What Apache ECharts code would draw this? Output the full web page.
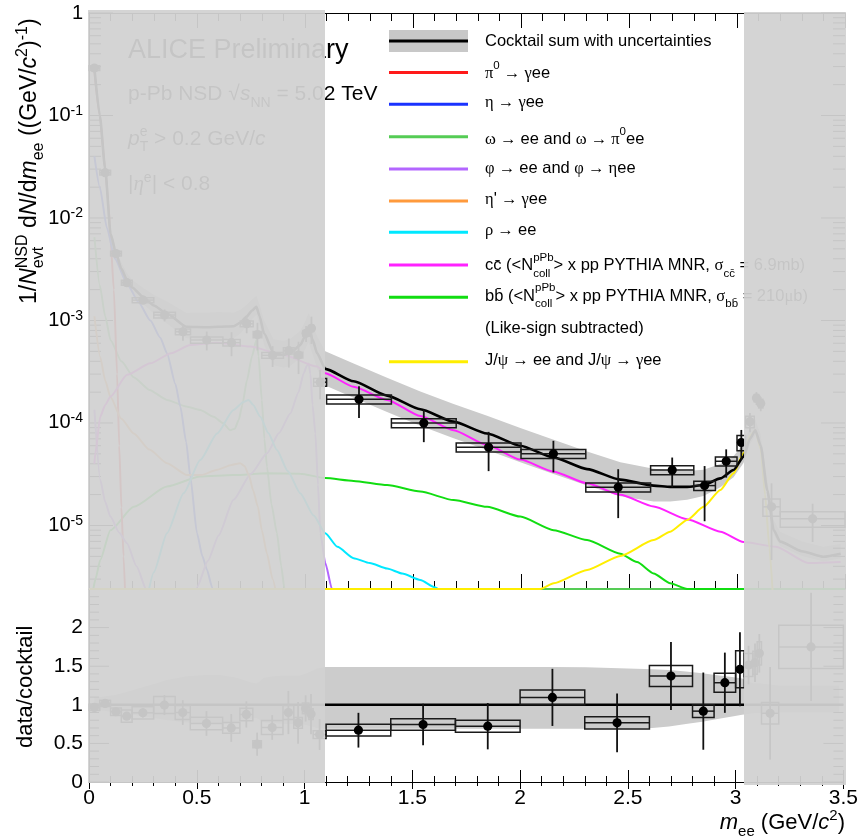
<!DOCTYPE html>
<html><head><meta charset="utf-8">
<script src="https://cdn.jsdelivr.net/npm/echarts@6/dist/echarts.min.js"></script>
<style>html,body{margin:0;padding:0;background:#fff}#c{width:861px;height:839px}</style>
</head><body><div id="c"></div><script>
const SANS = '"Liberation Sans", Arial, Helvetica, sans-serif';
const SERIF = '"Liberation Serif", "DejaVu Serif", serif';
const YMIN = 2.4e-6, YMAX = 1;

// ---------------- cocktail sum ----------------
const cocktailX = [0.025,0.05,0.075,0.1,0.125,0.15,0.176,0.2,0.25,0.3,0.36,0.45,0.55,0.6,0.67,0.7,0.73,0.755,0.775,0.79,0.81,0.855,0.9,0.932,0.978,1.0,1.017,1.035,1.056,1.094,1.225,1.38,1.534,1.688,1.843,1.997,2.151,2.306,2.46,2.614,2.691,2.769,2.845,2.923,2.984,3.03,3.06,3.085,3.11,3.14,3.17,3.2,3.3,3.4,3.48];
const cocktailY = [0.29,0.1,0.03,7e-3,4.5e-3,3.2e-3,2.48e-3,2.1e-3,1.7e-3,1.4e-3,1.17e-3,8.7e-4,8.6e-4,8.7e-4,8.8e-4,9.5e-4,1.09e-3,1.25e-3,1.36e-3,1.1e-3,7.5e-4,4.8e-4,4.6e-4,4.8e-4,5.75e-4,7e-4,8.4e-4,6.5e-4,4.8e-4,3.37e-4,2.55e-4,1.85e-4,1.36e-4,1.03e-4,7.9e-5,6.0e-5,4.6e-5,3.55e-5,2.8e-5,2.45e-5,2.38e-5,2.38e-5,2.48e-5,2.88e-5,3.48e-5,4.69e-5,7e-5,8.5e-5,6e-5,2.2e-5,9e-6,6.95e-6,5.6e-6,4.95e-6,5.3e-6];
// relative cocktail uncertainty (upper / lower edge of data/cocktail band)
const bandHi = [1.10,1.10,1.11,1.12,1.13,1.15,1.17,1.19,1.23,1.27,1.32,1.37,1.39,1.39,1.36,1.34,1.31,1.29,1.28,1.30,1.35,1.37,1.38,1.38,1.38,1.40,1.42,1.44,1.47,1.49,1.49,1.49,1.49,1.49,1.49,1.49,1.49,1.485,1.475,1.46,1.45,1.43,1.41,1.38,1.36,1.34,1.30,1.28,1.28,1.27,1.26,1.25,1.25,1.25,1.25];
const bandLo = [0.93,0.93,0.92,0.91,0.90,0.89,0.88,0.87,0.85,0.83,0.80,0.77,0.75,0.75,0.76,0.78,0.80,0.82,0.83,0.81,0.77,0.76,0.75,0.75,0.75,0.74,0.73,0.72,0.70,0.69,0.69,0.69,0.69,0.69,0.69,0.69,0.69,0.69,0.69,0.70,0.72,0.75,0.78,0.82,0.85,0.87,0.88,0.89,0.89,0.89,0.90,0.90,0.90,0.90,0.90];

// ---------------- cocktail components ----------------
const pi0 = [[0.025,0.27],[0.05,0.1],[0.075,0.03],[0.09,0.014],[0.1,6e-3],[0.115,2e-3],[0.13,3e-4],[0.14,6e-5],[0.15,1.5e-5],[0.16,5e-6],[0.17,1.5e-6]];
const eta = [[0.025,0.04],[0.05,0.02],[0.083,8e-3],[0.12,4e-3],[0.176,2.3e-3],[0.23,1.5e-3],[0.284,1.0e-3],[0.33,6.8e-4],[0.361,4.8e-4],[0.4,2.4e-4],[0.423,1.44e-4],[0.45,6.5e-5],[0.469,3e-5],[0.5,8.4e-6],[0.525,5e-6],[0.546,3.7e-6],[0.57,2.5e-6],[0.585,1.8e-6]];
const omega = [[0.025,6.5e-3],[0.05,2.2e-3],[0.075,1.1e-3],[0.1,6.4e-4],[0.15,4e-4],[0.207,2.8e-4],[0.28,2.1e-4],[0.361,1.68e-4],[0.45,1.45e-4],[0.515,1.34e-4],[0.577,1.15e-4],[0.62,1e-4],[0.654,8.5e-5],[0.675,8.8e-5],[0.693,1.07e-4],[0.71,1.5e-4],[0.731,2.6e-4],[0.755,4.5e-4],[0.775,6.45e-4],[0.785,4.5e-4],[0.8,1.68e-4],[0.812,7e-5],[0.824,3.75e-5],[0.845,1.6e-5],[0.87,8.4e-6],[0.89,4e-6],[0.905,2.4e-6],[3.5,2.4e-6]];
const phiLow = [[0.025,1.35e-4],[0.052,2.8e-5],[0.075,1.7e-5],[0.099,1.22e-5],[0.14,8.5e-6],[0.176,6.7e-6],[0.22,4e-6],[0.268,2.3e-6],[0.28,1.8e-6]];
const phiHigh = [[0.49,1.8e-6],[0.5,2.5e-6],[0.55,4.5e-6],[0.6,8e-6],[0.669,1.78e-5],[0.75,3.2e-5],[0.824,5.06e-5],[0.88,8e-5],[0.932,1.24e-4],[0.97,2e-4],[0.994,3.05e-4],[1.008,3.6e-4],[1.017,3.8e-4],[1.025,3e-4],[1.035,1.5e-4],[1.048,7.9e-5],[1.06,2.5e-5],[1.071,8.4e-6],[1.094,4.3e-6],[1.125,2.4e-6],[1.13,2e-6]];
const etaPrime = [[0.025,1.1e-3],[0.052,4.4e-4],[0.075,2.6e-4],[0.099,1.8e-4],[0.15,1.1e-4],[0.207,7.9e-5],[0.28,5.5e-5],[0.361,4.05e-5],[0.454,3.1e-5],[0.52,3.1e-5],[0.593,3.5e-5],[0.66,3.9e-5],[0.7,4.05e-5],[0.72,3.8e-5],[0.74,3.1e-5],[0.76,2.2e-5],[0.782,1.52e-5],[0.8,9e-6],[0.824,5.3e-6],[0.85,3e-6],[0.87,2e-6]];
const rho = [[0.27,2e-6],[0.3,3.5e-6],[0.361,8.4e-6],[0.438,2.06e-5],[0.515,4.35e-5],[0.593,7.9e-5],[0.669,1.34e-4],[0.715,1.6e-4],[0.739,1.68e-4],[0.76,1.5e-4],[0.793,1.15e-4],[0.83,8e-5],[0.87,5.45e-5],[0.92,3.4e-5],[0.978,2.06e-5],[1.04,1.25e-5],[1.094,8.4e-6],[1.15,6.2e-6],[1.225,4.8e-6],[1.3,4.3e-6],[1.38,3.8e-6],[1.45,3.4e-6],[1.534,2.94e-6],[1.6,2.5e-6],[1.64,2.2e-6]];
const ccbar = [[0.025,4e-5],[0.029,5.06e-5],[0.052,1.15e-4],[0.075,1.5e-4],[0.099,1.8e-4],[0.176,2.95e-4],[0.284,3.82e-4],[0.38,4.8e-4],[0.469,5.77e-4],[0.593,6.08e-4],[0.747,5.56e-4],[0.901,4.6e-4],[1.056,3.55e-4],[1.094,3.05e-4],[1.225,2.26e-4],[1.38,1.68e-4],[1.534,1.17e-4],[1.688,8.5e-5],[1.843,6.1e-5],[1.997,4.4e-5],[2.151,3.35e-5],[2.306,2.58e-5],[2.46,1.99e-5],[2.614,1.53e-5],[2.769,1.15e-5],[2.923,8.7e-6],[3.03,6.9e-6],[3.18,6.2e-6],[3.33,4.3e-6],[3.48,4.4e-6]];
const bbbar = [[0.02,2.4e-6],[0.03,3e-6],[0.052,4.6e-6],[0.099,9e-6],[0.207,1.52e-5],[0.361,2.4e-5],[0.515,3e-5],[0.669,3.1e-5],[0.824,3.23e-5],[0.978,3.2e-5],[1.094,2.9e-5],[1.225,2.72e-5],[1.38,2.48e-5],[1.534,2.14e-5],[1.688,1.77e-5],[1.843,1.52e-5],[1.997,1.22e-5],[2.151,9e-6],[2.306,7.2e-6],[2.46,5.3e-6],[2.537,4.4e-6],[2.614,3.4e-6],[2.691,2.73e-6],[2.769,2.4e-6],[3.5,2.4e-6]];
const jpsi = [[0,2.4e-6],[2.09,2.4e-6],[2.151,2.73e-6],[2.306,3.68e-6],[2.46,5.04e-6],[2.614,7.2e-6],[2.691,8.7e-6],[2.769,1.13e-5],[2.845,1.52e-5],[2.923,2.22e-5],[2.984,3.23e-5],[3.03,5.06e-5],[3.06,7.5e-5],[3.085,8.5e-5],[3.11,5.5e-5],[3.13,2e-5],[3.15,6e-6],[3.17,1.5e-6]];
const unityLine = [[0,1],[3.5,1]];

// ---------------- data points ----------------
const xPts   = [0.025,0.075,0.125,0.175,0.25,0.35,0.435,0.545,0.66,0.73,0.78,0.85,0.925,0.97,1.005,1.03,1.07,1.25,1.55,1.85,2.15,2.45,2.70,2.85,2.95,3.02,3.06,3.09,3.11,3.16,3.35];
const binLo  = [0.0,0.05,0.1,0.15,0.2,0.3,0.4,0.47,0.62,0.7,0.76,0.8,0.9,0.95,0.99,1.02,1.04,1.1,1.4,1.7,2.0,2.3,2.6,2.8,2.9,3.0,3.04,3.08,3.1,3.12,3.2];
const binHi  = [0.05,0.1,0.15,0.2,0.3,0.4,0.47,0.62,0.7,0.76,0.8,0.9,0.95,0.99,1.02,1.04,1.1,1.4,1.7,2.0,2.3,2.6,2.8,2.9,3.0,3.04,3.08,3.1,3.12,3.2,3.5];
const yieldY = [0.29,0.0277,4.5e-3,2.34e-3,1.58e-3,1.13e-3,7.76e-4,6.45e-4,6.08e-4,9.3e-4,7.3e-4,4.57e-4,5.07e-4,4.6e-4,7.5e-4,8.4e-4,2.5e-4,1.70e-4,1.0e-4,5.79e-5,5.0e-5,2.36e-5,3.48e-5,2.45e-5,4.23e-5,6.45e-5,1.03e-4,1.75e-4,1.55e-4,1.52e-5,1.16e-5];
const yieldStat = [0.009,8e-4,2e-4,1.4e-4,1.1e-4,1.5e-4,1.4e-4,1.35e-4,1.6e-4,1.8e-4,2.2e-4,1.05e-4,1.6e-4,1.6e-4,1.35e-4,2.5e-4,8e-5,5.8e-5,3.5e-5,2.4e-5,1.7e-5,1.18e-5,1.12e-5,1.35e-5,1.3e-5,2.1e-5,2.2e-5,2.5e-5,2.5e-5,1.06e-5,4.7e-6];
const yieldSys = [0.015,1.5e-3,2.5e-4,1.3e-4,9e-5,7e-5,5e-5,4.5e-5,4.5e-5,6e-5,5e-5,3e-5,3.5e-5,3e-5,5e-5,6e-5,2.2e-5,1.7e-5,1.0e-5,5.8e-6,5e-6,2.4e-6,3.5e-6,2.5e-6,4.2e-6,1.1e-5,1.3e-5,1.5e-5,1.5e-5,2.9e-6,2e-6];
const ratioY = [0.966,1.018,0.91,0.853,0.896,0.996,0.90,0.758,0.70,0.875,0.49,0.706,0.90,0.766,0.953,0.88,0.615,0.671,0.745,0.723,1.096,0.766,1.373,0.918,1.286,1.46,1.515,1.545,1.667,0.89,1.75];
const ratioStat = [0.03,0.03,0.04,0.05,0.06,0.13,0.16,0.16,0.18,0.17,0.15,0.16,0.28,0.27,0.17,0.26,0.2,0.225,0.27,0.3,0.37,0.38,0.44,0.5,0.39,0.48,0.25,0.25,0.25,0.6,0.7];
const ratioSys = [0.04,0.04,0.05,0.08,0.08,0.11,0.09,0.08,0.07,0.08,0.045,0.09,0.09,0.07,0.07,0.07,0.05,0.076,0.075,0.078,0.096,0.078,0.136,0.082,0.124,0.24,0.15,0.15,0.15,0.14,0.28];

// ---------------- axis ticks / labels ----------------
const xTickLabels = ['0','0.5','1','1.5','2','2.5','3','3.5'];
const ratioTickLabels = ['0','0.5','1','1.5','2'];
const logMajorTicks = [1e-5,1e-4,1e-3,1e-2,0.1,1];
const logMinorTicks = [3e-6,4e-6,5e-6,6e-6,7e-6,8e-6,9e-6,2e-5,3e-5,4e-5,5e-5,6e-5,7e-5,8e-5,9e-5,2e-4,3e-4,4e-4,5e-4,6e-4,7e-4,8e-4,9e-4,2e-3,3e-3,4e-3,5e-3,6e-3,7e-3,8e-3,9e-3,0.02,0.03,0.04,0.05,0.06,0.07,0.08,0.09,0.2,0.3,0.4,0.5,0.6,0.7,0.8,0.9];
const ratioMajorTicks = [0,0.5,1,1.5,2,2.5];
const ratioMinorTicks = [0.1,0.2,0.3,0.4,0.6,0.7,0.8,0.9,1.1,1.2,1.3,1.4,1.6,1.7,1.8,1.9,2.1,2.2,2.3,2.4];

// ---------------- colours ----------------
const C = {pi0:'#ff1a1a', eta:'#1a33ff', omega:'#55cc55', phi:'#b366ff', etap:'#ff9a3c', rho:'#00e8ff', cc:'#ff22ff', bb:'#11dd11', jpsi:'#ffee00'};

// ---------------- text layout helper ----------------
const mctx = document.createElement('canvas').getContext('2d');
function tw(t, font){ mctx.font = font; return mctx.measureText(t).width; }
function S(t, o){ return Object.assign({t:t}, o || {}); }
function layoutText(segs, x0, base, defSize, opt){
  opt = opt || {};
  let x = x0, stackX = 0, stackW = 0; const els = [];
  segs.forEach(s => {
    const size = s.size || defSize, fam = s.fam || SANS;
    const font = (s.it ? 'italic ' : '') + size + 'px ' + fam;
    const w = tw(s.t, font);
    let px;
    if (s.stack === 1){ stackX = x; stackW = w; px = x; }
    else if (s.stack === 2){ px = stackX; stackW = Math.max(stackW, w); x = stackX + stackW; }
    else { px = x; x += w; }
    els.push({type:'text', x: px, y: base + (s.dy || 0) - 0.35 * size, z: opt.z || 10, silent: true,
      style:{text: s.t, fontSize: size, fontFamily: fam, fontStyle: s.it ? 'italic' : 'normal', fill: opt.fill || '#000', verticalAlign: 'middle', align: 'left'}});
  });
  return {els: els, width: x - x0};
}
const SUP = (t, sz, dy) => S(t, {size: sz, dy: -(dy || 8)});
const SUB = (t, sz, dy) => S(t, {size: sz, dy: (dy || 5)});
const G = (t) => S(t, {fam: SERIF});

// ---------------- graphic elements ----------------
const graphics = [];
// legend
const LX0 = 389, LX1 = 468, LTX = 485, LFS = 16.5, LSS = 11.5;
graphics.push({type:'rect', z: 10, silent:true, shape:{x:LX0, y:30, width:LX1-LX0, height:22}, style:{fill:'#c8c8c8'}});
graphics.push({type:'line', z: 11, silent:true, shape:{x1:LX0, y1:41, x2:LX1, y2:41}, style:{stroke:'#000', lineWidth:3}});
const legendRows = [
  {y:null, base:47.5, c:null, segs:[S('Cocktail sum with uncertainties')]},
  {y:72.5, base:79.3, c:C.pi0, segs:[G('π'), SUP('0',LSS,9), G(' → '), G('γ'), S('ee')]},
  {y:104.3, base:108.5, c:C.eta, segs:[G('η'), G(' → '), G('γ'), S('ee')]},
  {y:136.7, base:145, c:C.omega, segs:[G('ω'), G(' → '), S('ee and '), G('ω'), G(' → '), G('π'), SUP('0',LSS,9), S('ee')]},
  {y:169, base:174, c:C.phi, segs:[G('φ'), G(' → '), S('ee and '), G('φ'), G(' → '), G('η'), S('ee')]},
  {y:201, base:205.5, c:C.etap, segs:[G('η'), S("'"), G(' → '), G('γ'), S('ee')]},
  {y:232.3, base:236.7, c:C.rho, segs:[G('ρ'), G(' → '), S('ee')]},
  {y:265, base:271.7, c:C.cc, segs:[S('cc\u0304 (<N'), S('pPb',{size:LSS,dy:-10,stack:1}), S('coll',{size:LSS,dy:6,stack:2}), S('> x pp PYTHIA MNR, '), G('σ'), SUB('cc\u0304',LSS,6), S(' = 6.9mb)')]},
  {y:297.3, base:302.3, c:C.bb, segs:[S('bb\u0304 (<N'), S('pPb',{size:LSS,dy:-10,stack:1}), S('coll',{size:LSS,dy:6,stack:2}), S('> x pp PYTHIA MNR, '), G('σ'), SUB('bb\u0304',LSS,6), S(' = 210'), G('μ'), S('b)')]},
  {y:null, base:334, c:null, segs:[S('(Like-sign subtracted)')]},
  {y:361.7, base:366, c:C.jpsi, segs:[S('J/'), G('ψ'), G(' → '), S('ee and J/'), G('ψ'), G(' → '), G('γ'), S('ee')]}
];
legendRows.forEach(r => {
  if (r.c) graphics.push({type:'line', z: 10, silent:true, shape:{x1:LX0, y1:r.y, x2:LX1, y2:r.y}, style:{stroke:r.c, lineWidth:3}});
  layoutText(r.segs, LTX, r.base, LFS).els.forEach(e => graphics.push(e));
});
// top-left text block
layoutText([S('ALICE Preliminary')], 128, 59.5, 27).els.forEach(e => graphics.push(e));
layoutText([S('p-Pb NSD '), S('√'), S('s',{it:true}), SUB('NN',14,6), S(' = 5.02 TeV')], 128, 101.7, 21).els.forEach(e => graphics.push(e));
layoutText([S('p',{it:true}), S('e',{size:14,dy:-9,stack:1}), S('T',{size:14,dy:6,stack:2}), S(' > 0.2 GeV/'), S('c',{it:true})], 128, 146.5, 21).els.forEach(e => graphics.push(e));
layoutText([S('|'), S('η',{it:true,fam:SERIF}), SUP('e',14,9), S('| < 0.8')], 128, 191.7, 21).els.forEach(e => graphics.push(e));
// y title (top panel), rotated
const yTitle = layoutText([S('1/'), S('N',{it:true}), S('NSD',{size:16,dy:-10,stack:1}), S('evt',{size:16,dy:6,stack:2}), S(' d'), S('N',{it:true}), S('/d'), S('m',{it:true}), SUB('ee',16,6), S(' ((GeV/'), S('c',{it:true}), SUP('2',16,10), S(')'), SUP('-1',16,10), S(')')], 0, 0, 23);
graphics.push({type:'group', x:38, y:304, rotation: Math.PI/2, children: yTitle.els});
// y title (ratio panel)
const rTitle = layoutText([S('data/cocktail')], 0, 0, 22);
graphics.push({type:'group', x:34, y:748, rotation: Math.PI/2, children: rTitle.els});
// x title
const xtSegs = [S('m',{it:true}), SUB('ee',15,6), S(' (GeV/'), S('c',{it:true}), SUP('2',15,10), S(')')];
const xtW = layoutText(xtSegs, 0, 0, 22).width;
layoutText(xtSegs, 845 - xtW, 831, 22).els.forEach(e => graphics.push(e));
// translucent masks over excluded regions
graphics.push({type:'rect', z: 100, silent:true, shape:{x:88, y:10, width:237, height:773}, style:{fill:'rgba(209,209,209,0.94)'}});
graphics.push({type:'rect', z: 100, silent:true, shape:{x:744, y:12, width:102, height:773}, style:{fill:'rgba(209,209,209,0.94)'}});

// ---------------- series helpers ----------------
function lineS(data, color, width, z){
  return {type:'line', xAxisIndex:0, yAxisIndex:0, data:data, showSymbol:false, symbol:'none', smooth:0.2, smoothMonotone:'x', silent:true, z: z || 3, lineStyle:{color:color, width: width || 2}};
}
function bandS(xi, yi, hiFn, loFn, color){
  return {type:'custom', xAxisIndex:xi, yAxisIndex:yi, z:1, silent:true, data:[[1, 1e-3]],
    renderItem:(p, api) => {
      if (p.dataIndex !== 0) return;
      const pts = [];
      for (let i = 0; i < cocktailX.length; i++) pts.push(api.coord([cocktailX[i], hiFn(i)]));
      for (let i = cocktailX.length - 1; i >= 0; i--) pts.push(api.coord([cocktailX[i], loFn(i)]));
      return {type:'polygon', shape:{points:pts}, style:{fill:color}};
    }};
}
function dataS(xi, yi, yArr, statArr, sysArr){
  return {type:'custom', xAxisIndex:xi, yAxisIndex:yi, z:6, silent:true,
    data: xPts.map((x, i) => [x, yArr[i], binLo[i], binHi[i], statArr[i], sysArr[i]]),
    encode:{x:0, y:1},
    renderItem:(p, api) => {
      const x = api.value(0), y = api.value(1), lo = api.value(2), hi = api.value(3), st = api.value(4), sy = api.value(5);
      const c = api.coord([x, y]), a = api.coord([lo, y + sy]), b = api.coord([hi, y - sy]);
      const l = api.coord([lo, y]), r = api.coord([hi, y]), t = api.coord([x, y + st]), bt = api.coord([x, y - st]);
      return {type:'group', children:[
        {type:'rect', shape:{x:a[0], y:a[1], width:b[0]-a[0], height:b[1]-a[1]}, style:{fill:'none', stroke:'#1a1a1a', lineWidth:1.5}},
        {type:'line', shape:{x1:l[0], y1:l[1], x2:r[0], y2:r[1]}, style:{stroke:'#1a1a1a', lineWidth:1.5}},
        {type:'line', shape:{x1:t[0], y1:t[1], x2:bt[0], y2:bt[1]}, style:{stroke:'#111', lineWidth:1.8}},
        {type:'circle', shape:{cx:c[0], cy:c[1], r:4.6}, style:{fill:'#000'}}
      ]};
    }};
}
// inward tick marks on both vertical frame edges of a panel
function yTickS(xi, yi, majors, minors, majLen, minLen){
  return {type:'custom', xAxisIndex:xi, yAxisIndex:yi, z:2, silent:true,
    data: majors.map(v => [0, v, majLen]).concat(minors.map(v => [0, v, minLen])), encode:{x:0, y:1},
    renderItem:(p, api) => { const v = api.value(1), len = api.value(2); const L = api.coord([0, v]), R = api.coord([3.5, v]);
      return {type:'group', children:[
        {type:'line', shape:{x1:L[0], y1:L[1], x2:L[0] + len, y2:L[1]}, style:{stroke:'#000', lineWidth:1}},
        {type:'line', shape:{x1:R[0] - len, y1:R[1], x2:R[0], y2:R[1]}, style:{stroke:'#000', lineWidth:1}}]}; }};
}

const axLine = {show:true, lineStyle:{color:'#000', width:1}};
const lab = {fontFamily:SANS, fontSize:21, color:'#000'};
function xAx(grid, pos, showLab, tickLen, minorLen){
  return {type:'value', gridIndex:grid, position:pos, min:0, max:3.5, interval:0.5,
    axisLine:axLine, splitLine:{show:false},
    axisTick:{show:true, inside:true, length:tickLen, lineStyle:{color:'#000'}},
    minorTick:{show:true, splitNumber:5, length:minorLen, lineStyle:{color:'#000'}},
    axisLabel: showLab ? Object.assign({show:true, margin:6, formatter:(v) => xTickLabels[Math.round(v / 0.5)] || ''}, lab) : {show:false}};
}
function logAx(pos, showLab){
  return {type:'log', logBase:10, gridIndex:0, position:pos, min:YMIN, max:YMAX, splitNumber:6,
    axisLine:axLine, splitLine:{show:false}, minorTick:{show:false}, axisTick:{show:false},
    axisLabel: showLab ? {show:true, margin:6,
      formatter:(v) => { const lg = Math.log10(v), e = Math.round(lg); if (Math.abs(lg - e) > 0.01) return ''; return e === 0 ? '1' : '{b|10}{s|' + e + '}'; },
      fontFamily:SANS, fontSize:20, color:'#000',
      rich:{b:{fontFamily:SANS, fontSize:20, color:'#000'}, s:{fontFamily:SANS, fontSize:14, color:'#000', padding:[0,0,9,0]}}} : {show:false}};
}
function ratioAx(pos, showLab){
  return {type:'value', gridIndex:1, position:pos, min:0, max:2.5, interval:0.5,
    axisLine:axLine, splitLine:{show:false}, axisTick:{show:false}, minorTick:{show:false},
    axisLabel: showLab ? Object.assign({show:true, margin:6, formatter:(v) => ratioTickLabels[Math.round(v / 0.5)] || ''}, lab) : {show:false}};
}

const option = {
  animation:false,
  backgroundColor:'#fff',
  grid:[{left:89, top:13, width:756, height:576}, {left:89, top:589, width:756, height:193}],
  xAxis:[xAx(0,'bottom',false,15,8), xAx(0,'top',false,15,8), xAx(1,'bottom',true,12,6), xAx(1,'top',false,7,4)],
  yAxis:[logAx('left',true), logAx('right',false), ratioAx('left',true), ratioAx('right',false)],
  graphic:{elements:graphics},
  series:[
    bandS(0, 0, i => cocktailY[i] * bandHi[i], i => cocktailY[i] * bandLo[i], '#cbcbcb'),
    yTickS(0, 0, logMajorTicks, logMinorTicks, 24, 12),
    lineS(omega, C.omega), lineS(bbbar, C.bb), lineS(pi0, C.pi0), lineS(eta, C.eta),
    lineS(phiLow, C.phi), lineS(phiHigh, C.phi), lineS(etaPrime, C.etap), lineS(rho, C.rho),
    lineS(ccbar, C.cc), lineS(jpsi, C.jpsi),
    lineS(cocktailX.map((x, i) => [x, cocktailY[i]]), '#000', 2.6, 4),
    dataS(0, 0, yieldY, yieldStat, yieldSys),
    bandS(2, 2, i => bandHi[i], i => bandLo[i], '#cccccc'),
    yTickS(2, 2, ratioMajorTicks, ratioMinorTicks, 20, 10),
    {type:'line', xAxisIndex:2, yAxisIndex:2, data:unityLine, showSymbol:false, symbol:'none', silent:true, z:4, lineStyle:{color:'#000', width:2.6}},
    dataS(2, 2, ratioY, ratioStat, ratioSys)
  ]
};
const chart = echarts.init(document.getElementById('c'));
chart.setOption(option);
</script></body></html>
